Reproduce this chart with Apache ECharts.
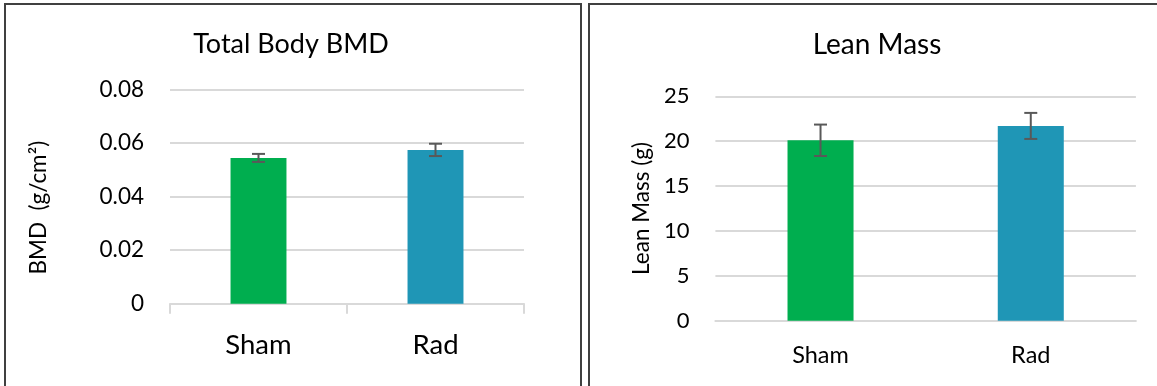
<!DOCTYPE html>
<html>
<head>
<meta charset="utf-8">
<script src="https://cdn.jsdelivr.net/npm/echarts@6/dist/echarts.min.js"></script>
<style>
  html, body { margin: 0; padding: 0; background: #fff; }
  #chart { width: 1157px; height: 386px; }
</style>
</head>
<body>
<div id="chart"></div>
<script>
// Groups shared by both panels
const categories = ['Sham', 'Rad'];

// Total body bone mineral density (g/cm²): mean and error
const bmdMean = [0.0545, 0.0575];
const bmdErr = [0.0015, 0.0023];
const bmdTicks = [0, 0.02, 0.04, 0.06, 0.08];

// Lean mass (g): mean and error
const leanMean = [20.1, 21.7];
const leanErr = [1.75, 1.45];
const leanTicks = [0, 5, 10, 15, 20, 25];

const FONT = 'Lato';
const barColors = ['#00AE4F', '#1F96B6'];
const gridColor = '#D9D9D9';
const errColor = '#595959';

function errorData(means, errs) {
  return means.map((m, i) => [i, m - errs[i], m + errs[i]]);
}

function barData(means) {
  return means.map((v, i) => ({ value: v, itemStyle: { color: barColors[i] } }));
}

function renderErrorBar(params, api) {
  const lo = api.coord([api.value(0), api.value(1)]);
  const hi = api.coord([api.value(0), api.value(2)]);
  const half = 6.5;
  const style = { stroke: errColor, lineWidth: 2, fill: null };
  return {
    type: 'group',
    children: [
      { type: 'line', shape: { x1: hi[0], y1: hi[1], x2: lo[0], y2: lo[1] }, style },
      { type: 'line', shape: { x1: hi[0] - half, y1: hi[1], x2: hi[0] + half, y2: hi[1] }, style },
      { type: 'line', shape: { x1: lo[0] - half, y1: lo[1], x2: lo[0] + half, y2: lo[1] }, style }
    ]
  };
}

const chart = echarts.init(document.getElementById('chart'), null, { renderer: 'canvas' });

chart.setOption({
  animation: false,
  backgroundColor: '#fff',
  textStyle: { fontFamily: FONT },
  title: [
    {
      text: 'Total Body BMD', left: 291, top: 31, padding: 0, textAlign: 'center',
      textStyle: { fontFamily: FONT, fontSize: 27, fontWeight: 'normal', color: '#000' }
    },
    {
      text: 'Lean Mass', left: 877, top: 31, padding: 0, textAlign: 'center',
      textStyle: { fontFamily: FONT, fontSize: 28, fontWeight: 'normal', color: '#000' }
    }
  ],
  grid: [
    { left: 170, top: 89.7, width: 354, height: 214 },
    { left: 715.4, top: 96.3, width: 420.5, height: 224.4 }
  ],
  xAxis: [
    {
      type: 'category', gridIndex: 0, data: categories,
      axisLine: { show: true, lineStyle: { color: gridColor, width: 2 } },
      axisTick: { show: true, length: 10, lineStyle: { color: gridColor, width: 2 } },
      axisLabel: { margin: 27, fontFamily: FONT, fontSize: 27.5, color: '#000' }
    },
    {
      type: 'category', gridIndex: 1, data: categories,
      axisLine: { show: true, lineStyle: { color: gridColor, width: 2 } },
      axisTick: { show: false },
      axisLabel: { margin: 23, fontFamily: FONT, fontSize: 23.5, color: '#000' }
    }
  ],
  yAxis: [
    {
      type: 'value', gridIndex: 0,
      min: bmdTicks[0], max: bmdTicks[bmdTicks.length - 1], interval: bmdTicks[1] - bmdTicks[0],
      name: 'BMD  (g/cm²)', nameLocation: 'middle', nameGap: 120,
      nameTextStyle: { fontFamily: FONT, fontSize: 22.5, color: '#000', padding: [0, 22, 0, 0] },
      axisLine: { show: false }, axisTick: { show: false },
      splitLine: { lineStyle: { color: gridColor, width: 2 } },
      axisLabel: {
        margin: 26, fontFamily: FONT, fontSize: 22.5, color: '#000',
        formatter: v => (v === 0 ? '0' : v.toFixed(2))
      }
    },
    {
      type: 'value', gridIndex: 1,
      min: leanTicks[0], max: leanTicks[leanTicks.length - 1], interval: leanTicks[1] - leanTicks[0],
      name: 'Lean Mass (g)', nameLocation: 'middle', nameGap: 62,
      nameTextStyle: { fontFamily: FONT, fontSize: 22.5, color: '#000' },
      axisLine: { show: false }, axisTick: { show: false },
      splitLine: { lineStyle: { color: gridColor, width: 2 } },
      axisLabel: { margin: 26, fontFamily: FONT, fontSize: 22, color: '#000' }
    }
  ],
  series: [
    {
      type: 'bar', xAxisIndex: 0, yAxisIndex: 0, barWidth: '31.6%',
      data: barData(bmdMean), z: 2
    },
    {
      type: 'custom', xAxisIndex: 0, yAxisIndex: 0, z: 3,
      renderItem: renderErrorBar, data: errorData(bmdMean, bmdErr)
    },
    {
      type: 'bar', xAxisIndex: 1, yAxisIndex: 1, barWidth: '31.4%',
      data: barData(leanMean), z: 2
    },
    {
      type: 'custom', xAxisIndex: 1, yAxisIndex: 1, z: 3,
      renderItem: renderErrorBar, data: errorData(leanMean, leanErr)
    }
  ],
  graphic: [
    // panel frames
    {
      type: 'polyline', silent: true, z: 10,
      shape: { points: [[5, 400], [5, 4], [581, 4], [581, 400]] },
      style: { stroke: '#404040', lineWidth: 2, fill: null }
    },
    {
      type: 'polyline', silent: true, z: 10,
      shape: { points: [[589, 400], [589, 4], [1170, 4]] },
      style: { stroke: '#404040', lineWidth: 2, fill: null }
    }
  ]
});
</script>
</body>
</html>
